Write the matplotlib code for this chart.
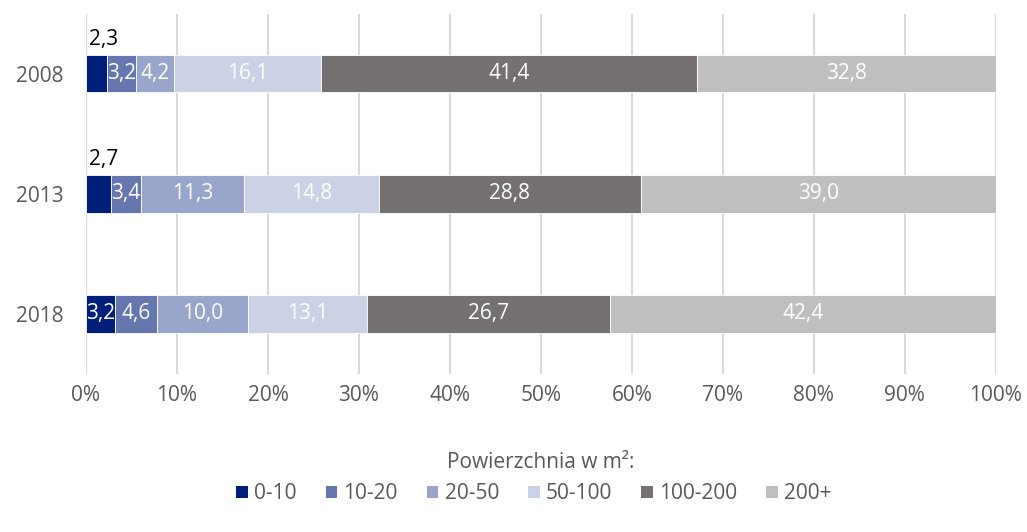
import matplotlib.pyplot as plt
from matplotlib.patches import Patch

plt.rcParams['font.family'] = ['Open Sans', 'DejaVu Sans']

years = ['2008', '2013', '2018']
groups = ['0-10', '10-20', '20-50', '50-100', '100-200', '200+']
values = [
    [2.3, 3.2, 4.2, 16.1, 41.4, 32.8],
    [2.7, 3.4, 11.3, 14.8, 28.8, 39.0],
    [3.2, 4.6, 10.0, 13.1, 26.7, 42.4],
]
colors = ['#001F7A', '#6577AE', '#99A5CA', '#CCD2E6', '#767171', '#BFBFBF']

fig = plt.figure(figsize=(10.27, 5.32), dpi=100)
ax = fig.add_axes([0.0837, 0.297, 0.886, 0.677])

for i, row in enumerate(values):
    left = 0.0
    for j, v in enumerate(row):
        ax.barh(i, v, left=left, height=0.31, color=colors[j], edgecolor='white', linewidth=0.6, zorder=3)
        lab = f'{v:.1f}'.replace('.', ',')
        if j == 0 and v < 3.0:
            ax.text(0.3, i - 0.29, lab, ha='left', va='center', fontsize=15, color='black', zorder=4)
        else:
            ax.text(left + v / 2, i, lab, ha='center', va='center', fontsize=15, color='white', zorder=4)
        left += v

ax.set_xlim(0, 100)
ax.set_ylim(2.5, -0.5)
ax.set_yticks(range(len(years)))
ax.set_yticklabels(years)
ax.set_xticks(range(0, 101, 10))
ax.set_xticklabels([f'{t}%' for t in range(0, 101, 10)])
ax.tick_params(axis='both', length=0, labelsize=15, labelcolor='#595959')
ax.tick_params(axis='y', pad=16)
ax.tick_params(axis='x', pad=8)
ax.grid(axis='x', color='#D9D9D9', linewidth=1.5, zorder=0)
for s in ax.spines.values():
    s.set_visible(False)

fig.text(0.526, 0.13, 'Powierzchnia w m²:', ha='center', va='center', fontsize=15, color='#595959')
handles = [Patch(facecolor=c, edgecolor='none') for c in colors]
fig.legend(handles, groups, loc='center', bbox_to_anchor=(0.52, 0.072), ncol=6, frameon=False,
           fontsize=15, labelcolor='#595959', handlelength=0.55, handleheight=0.55,
           handletextpad=0.3, columnspacing=1.4)

fig.savefig('out.png', dpi=100)
